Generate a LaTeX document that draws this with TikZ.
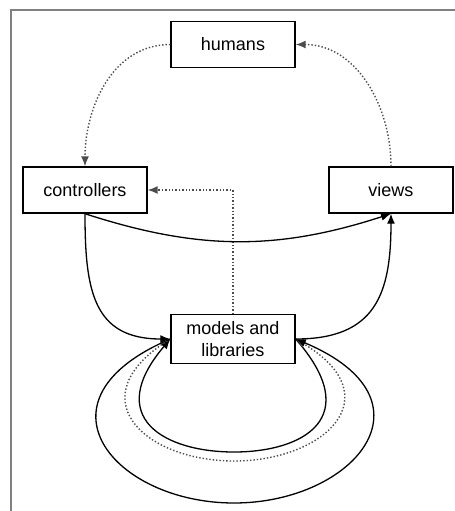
\documentclass[tikz,border=0pt]{standalone}
\usepackage{fontspec}
\setmainfont{Liberation Sans}
\usepackage{tikz}
\usetikzlibrary{arrows.meta}
\tikzset{
  box node/.style={rectangle,draw,line width=0.7pt,minimum width=62pt,minimum height=23pt,
    align=center,font=\fontsize{9}{11}\selectfont},
  soft/.style={densely dotted,line width=0.7pt,black!70},
  hard/.style={line width=0.65pt}
}
\begin{document}
\begin{tikzpicture}[->,>={Latex[length=5pt,width=4pt]},x=0.5pt,y=0.5pt]
  \useasboundingbox (0,0) rectangle (455,-511);
  % frame
  \draw [-,gray,line width=1pt] (455,-10) -- (11,-10) -- (11,-511);
  \node [box node] (humans) at (233,-44.5) {humans};
  \node [box node] (controllers) at (85,-190) {controllers};
  \node [box node] (views) at (391,-190) {views};
  \node [box node] (models) at (233,-339) {models and\\libraries};
  \coordinate (inner low) at (234,-452);
  \coordinate (middle low) at (234,-461);
  \coordinate (outer low) at (234,-503);
  % dotted links
  \draw [soft] (humans.west) to[out=180,in=90] (controllers.north);
  \draw [soft] (views.north) to[out=90,in=0] (humans.east);
  \draw [soft] (models.north) |- (controllers.east);
  % solid links
  \draw [hard] (controllers.south) to[out=-18,in=-162] (views.south);
  \draw [hard] (controllers.south) to[out=-90,in=180,looseness=1.3] (models.west);
  \draw [hard] (models.east) to[out=0,in=-90,looseness=1.3] (views.south);
  % loops under models
  \draw [hard] (models.east) .. controls (365,-418) and (303,-452) .. (inner low)
    .. controls (165,-452) and (103,-418) .. (models.west);
  \draw [soft] (models.west) .. controls (76,-397) and (144,-461) .. (middle low)
    .. controls (324,-461) and (392,-397) .. (models.east);
  \draw [hard] (models.west) .. controls (27,-400) and (114,-503) .. (outer low)
    .. controls (354,-503) and (441,-400) .. (models.east);
\end{tikzpicture}
\end{document}
